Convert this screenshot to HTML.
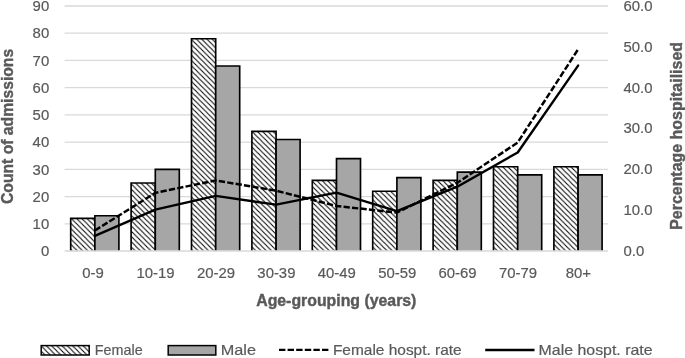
<!DOCTYPE html>
<html lang="en">
<head>
<meta charset="utf-8">
<title>Admissions by age-grouping</title>
<style>
html,body{margin:0;padding:0;background:#fff;}
body{width:685px;height:358px;overflow:hidden;}
svg{display:block;}
text{font-family:"Liberation Sans",sans-serif;fill:#595959;}
.t{font-size:14.9px;stroke:#595959;stroke-width:0.2px;}
.b{font-size:15.7px;font-weight:bold;stroke:#595959;stroke-width:0.4px;}
.l{font-size:15px;stroke:#595959;stroke-width:0.2px;}
</style>
</head>
<body>
<svg width="685" height="358" viewBox="0 0 685 358">
<defs>
<pattern id="h" patternUnits="userSpaceOnUse" width="5.25" height="5.25" x="0.8" y="1">
<rect width="5.25" height="5.25" fill="#fff"/>
<path d="M-5.25 -5.25L10.5 10.5M-5.25 0L5.25 10.5M0 -5.25L10.5 5.25" stroke="#000" stroke-width="1.05" fill="none"/>
</pattern>
</defs>
<rect width="685" height="358" fill="#fff"/>

<g stroke="#d9d9d9" stroke-width="1.3">
<line x1="64.6" y1="223.78" x2="608.0" y2="223.78"/>
<line x1="64.6" y1="196.56" x2="608.0" y2="196.56"/>
<line x1="64.6" y1="169.33" x2="608.0" y2="169.33"/>
<line x1="64.6" y1="142.11" x2="608.0" y2="142.11"/>
<line x1="64.6" y1="114.89" x2="608.0" y2="114.89"/>
<line x1="64.6" y1="87.67" x2="608.0" y2="87.67"/>
<line x1="64.6" y1="60.45" x2="608.0" y2="60.45"/>
<line x1="64.6" y1="33.22" x2="608.0" y2="33.22"/>
<line x1="64.6" y1="6.00" x2="608.0" y2="6.00"/>
</g>
<g stroke="#000" stroke-width="1.65">
<path d="M70.70 250.8V218.43H94.90V250.8" fill="url(#h)"/>
<path d="M94.90 250.8V215.71H118.90V250.8" fill="#a6a6a6"/>
<path d="M131.10 250.8V183.04H155.30V250.8" fill="url(#h)"/>
<path d="M155.30 250.8V169.43H179.30V250.8" fill="#a6a6a6"/>
<path d="M191.50 250.8V38.77H215.70V250.8" fill="url(#h)"/>
<path d="M215.70 250.8V65.99H239.70V250.8" fill="#a6a6a6"/>
<path d="M251.90 250.8V131.32H276.10V250.8" fill="url(#h)"/>
<path d="M276.10 250.8V139.49H300.10V250.8" fill="#a6a6a6"/>
<path d="M312.30 250.8V180.32H336.50V250.8" fill="url(#h)"/>
<path d="M336.50 250.8V158.55H360.50V250.8" fill="#a6a6a6"/>
<path d="M372.70 250.8V191.21H396.90V250.8" fill="url(#h)"/>
<path d="M396.90 250.8V177.60H420.90V250.8" fill="#a6a6a6"/>
<path d="M433.10 250.8V180.32H457.30V250.8" fill="url(#h)"/>
<path d="M457.30 250.8V172.16H481.30V250.8" fill="#a6a6a6"/>
<path d="M493.50 250.8V166.71H517.70V250.8" fill="url(#h)"/>
<path d="M517.70 250.8V174.88H541.70V250.8" fill="#a6a6a6"/>
<path d="M553.90 250.8V166.71H578.10V250.8" fill="url(#h)"/>
<path d="M578.10 250.8V174.88H602.10V250.8" fill="#a6a6a6"/>
</g>
<line x1="64.6" y1="251.0" x2="608.0" y2="251.0" stroke="#d9d9d9" stroke-width="1.6"/>
<polyline points="94.9,230.5 155.3,192.9 215.7,180.4 276.1,190.7 336.5,206.0 396.9,212.6 457.3,182.8 517.7,142.5 578.1,49.3" fill="none" stroke="#000" stroke-width="2.5" stroke-dasharray="6.3 2.2" stroke-linejoin="round"/>
<polyline points="94.9,235.9 155.3,209.7 215.7,195.9 276.1,204.6 336.5,192.6 396.9,211.2 457.3,186.7 517.7,152.5 578.1,65.6" fill="none" stroke="#000" stroke-width="2.4" stroke-linejoin="round" stroke-linecap="round"/>
<g class="t" text-anchor="end">
<text x="49.2" y="256.2">0</text>
<text x="49.2" y="229.0">10</text>
<text x="49.2" y="201.8">20</text>
<text x="49.2" y="174.5">30</text>
<text x="49.2" y="147.3">40</text>
<text x="49.2" y="120.1">50</text>
<text x="49.2" y="92.9">60</text>
<text x="49.2" y="65.6">70</text>
<text x="49.2" y="38.4">80</text>
<text x="49.2" y="11.2">90</text>
</g>
<g class="t">
<text x="623.5" y="255.8">0.0</text>
<text x="623.5" y="215.0">10.0</text>
<text x="623.5" y="174.1">20.0</text>
<text x="623.5" y="133.3">30.0</text>
<text x="623.5" y="92.5">40.0</text>
<text x="623.5" y="51.7">50.0</text>
<text x="623.5" y="10.8">60.0</text>
</g>
<g class="t" text-anchor="middle">
<text x="93.0" y="277.5">0-9</text>
<text x="155.6" y="277.5">10-19</text>
<text x="216.0" y="277.5">20-29</text>
<text x="276.4" y="277.5">30-39</text>
<text x="336.8" y="277.5">40-49</text>
<text x="397.2" y="277.5">50-59</text>
<text x="457.6" y="277.5">60-69</text>
<text x="518.0" y="277.5">70-79</text>
<text x="578.4" y="277.5">80+</text>
</g>
<text class="b" style="font-size:15.85px" text-anchor="middle" x="336.3" y="306">Age-grouping (years)</text>
<text class="b" text-anchor="middle" transform="translate(13 126.4) rotate(-90)">Count of admissions</text>
<text class="b" style="font-size:15.95px" text-anchor="middle" transform="translate(682.3 135.9) rotate(-90)">Percentage hospitailised</text>
<rect x="41.2" y="345.6" width="48" height="9.4" fill="url(#h)" stroke="#000" stroke-width="1.5"/>
<text class="l" x="94.8" y="354.6" textLength="48" lengthAdjust="spacingAndGlyphs">Female</text>
<rect x="168.2" y="345.6" width="47.6" height="9.4" fill="#a6a6a6" stroke="#000" stroke-width="1.5"/>
<text class="l" x="220.8" y="354.6" textLength="35.2" lengthAdjust="spacingAndGlyphs">Male</text>
<line x1="279" y1="349.9" x2="328.5" y2="349.9" stroke="#000" stroke-width="2.4" stroke-dasharray="6.4 2.2"/>
<text class="l" x="332.9" y="354.6" textLength="128.8" lengthAdjust="spacingAndGlyphs">Female hospt. rate</text>
<line x1="485.2" y1="349.9" x2="534.5" y2="349.9" stroke="#000" stroke-width="2.5"/>
<text class="l" x="538.6" y="354.6" textLength="114" lengthAdjust="spacingAndGlyphs">Male hospt. rate</text>
</svg>
</body>
</html>
